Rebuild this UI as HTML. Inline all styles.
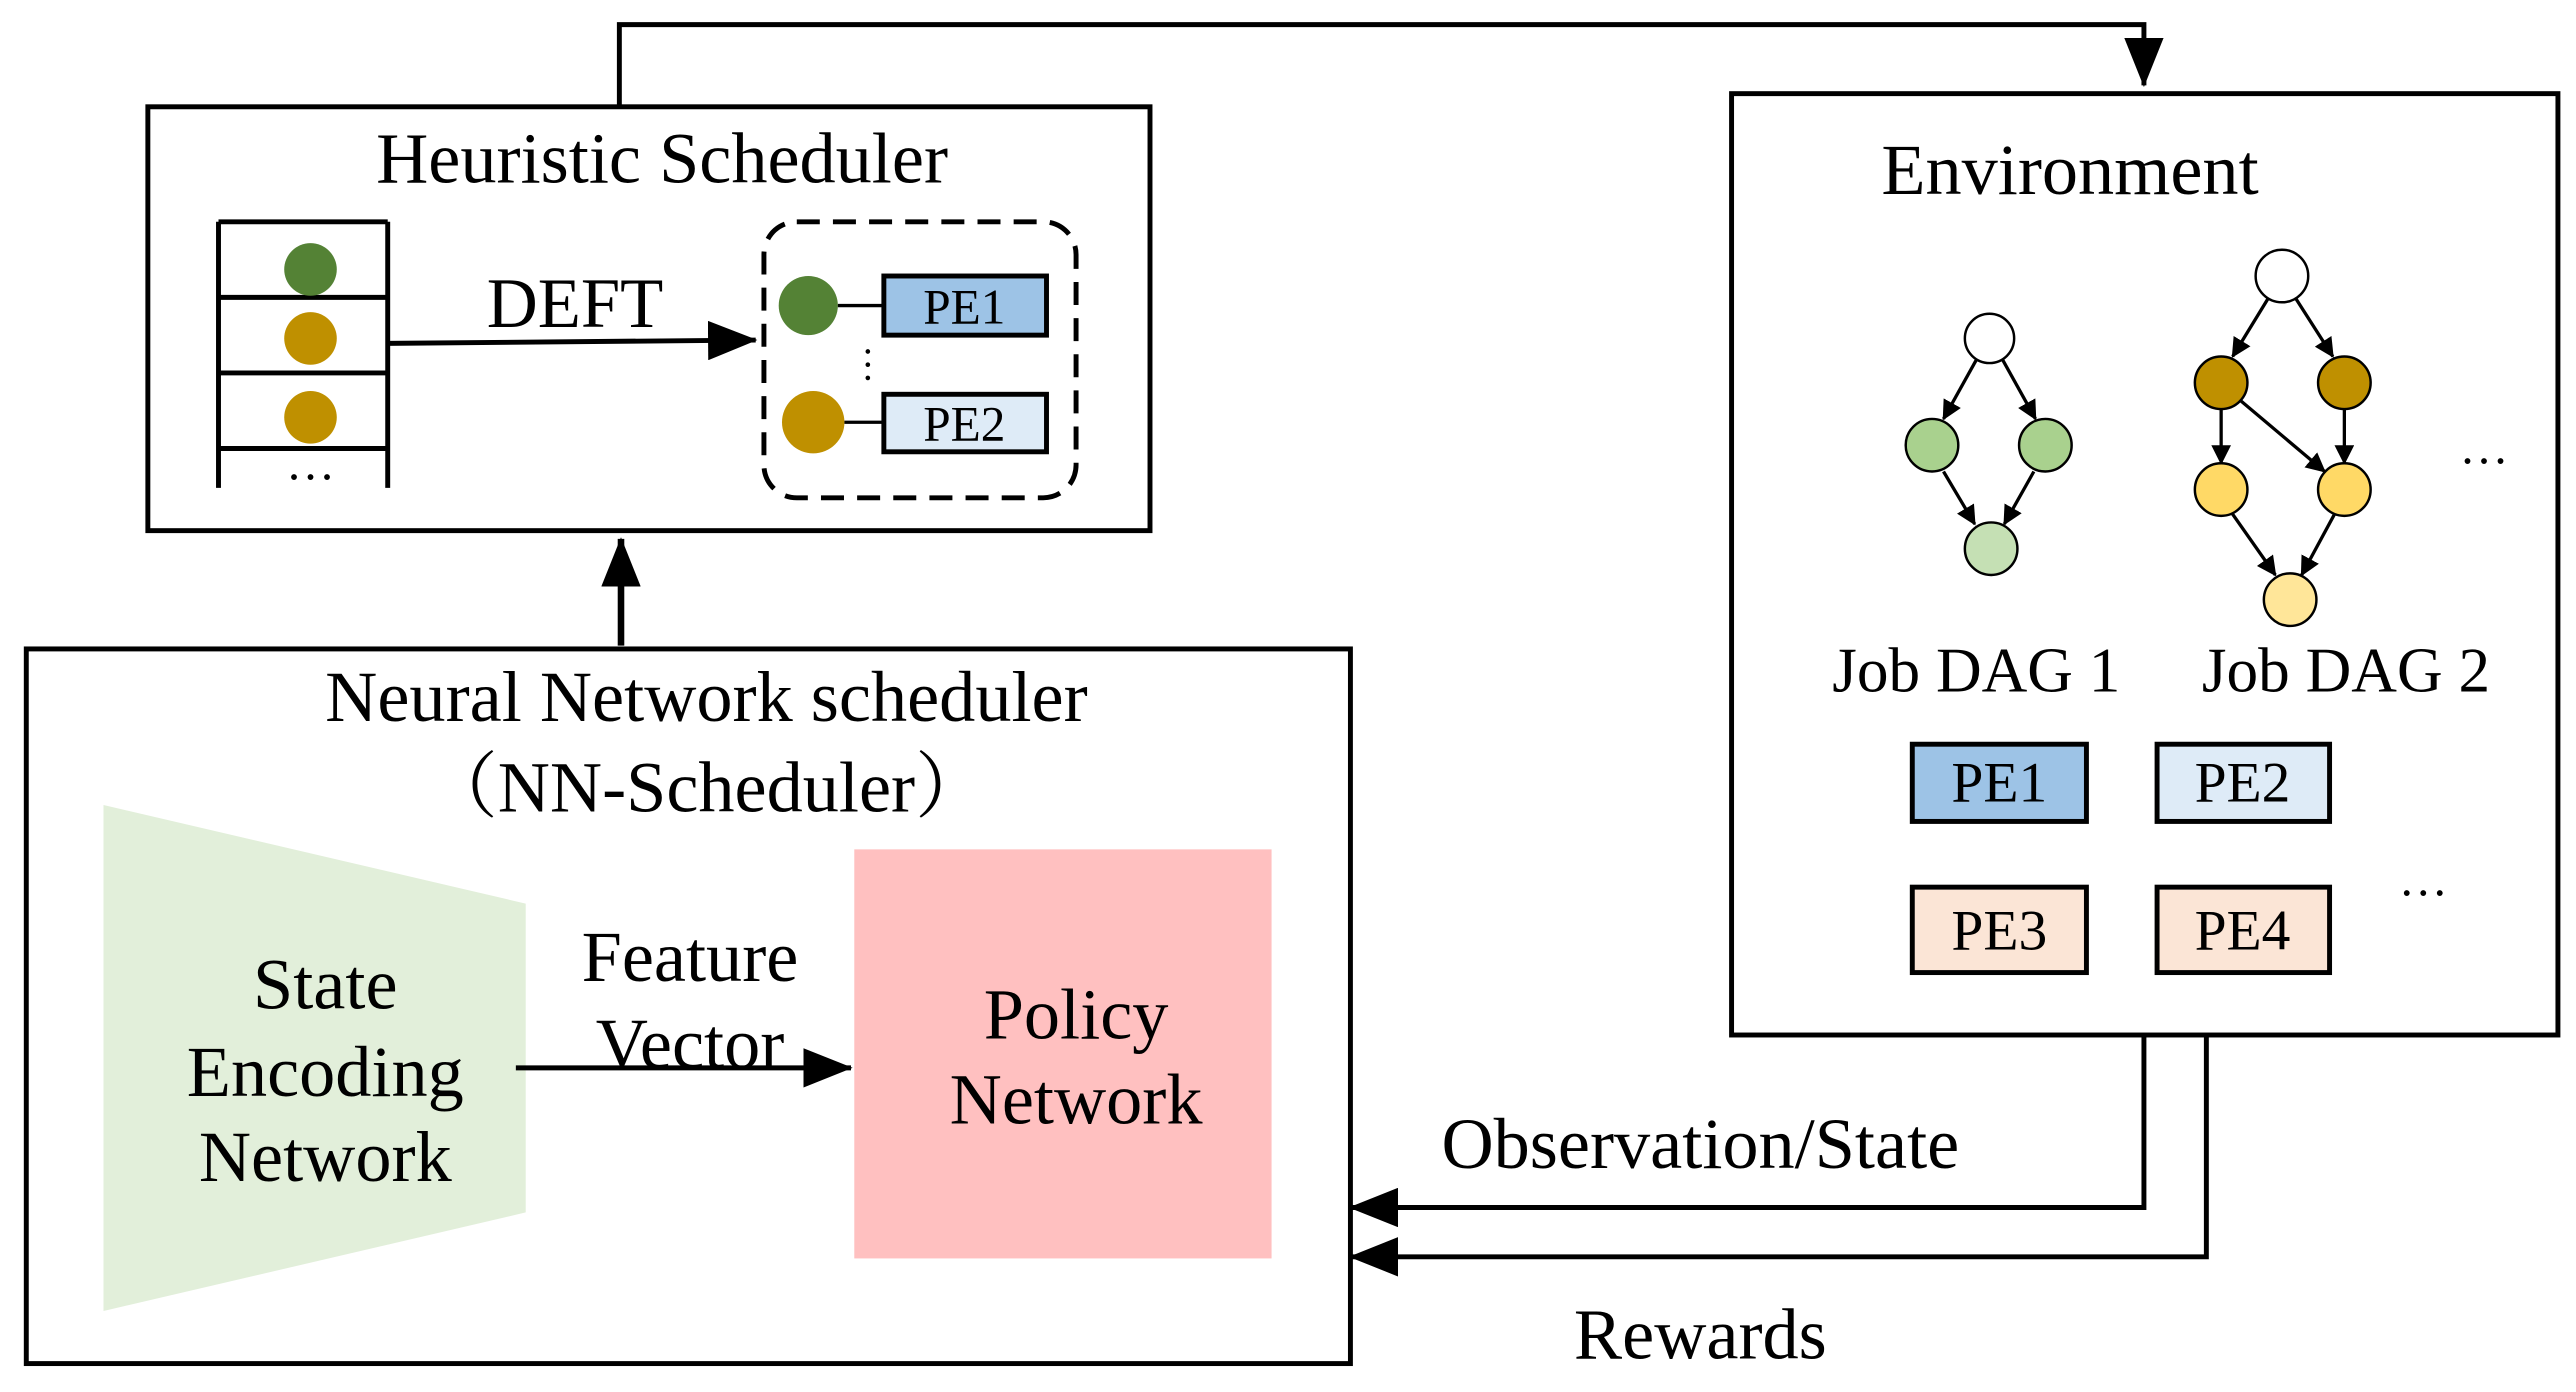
<!DOCTYPE html>
<html><head><meta charset="utf-8"><style>html,body{margin:0;padding:0;background:#fff}svg{display:block}</style></head>
<body>
<svg width="2576" height="1392" viewBox="0 0 1568 847.3" xmlns="http://www.w3.org/2000/svg" font-family="'Liberation Serif', 'Noto Serif CJK SC', serif">
<defs>
<marker id="a" markerWidth="12" markerHeight="12" refX="11" refY="6" orient="auto" markerUnits="userSpaceOnUse"><path d="M0,0 L12,6 L0,12 z" fill="#000"/></marker>
<marker id="b" markerWidth="30" markerHeight="24" refX="29" refY="12" orient="auto" markerUnits="userSpaceOnUse"><path d="M0,0 L30,12 L0,24 z" fill="#000"/></marker>
</defs>
<g fill="none" stroke="#000" stroke-width="3">
<rect x="90" y="65" width="610" height="258"/>
<rect x="1054" y="57" width="503" height="573"/>
<rect x="16" y="395" width="806" height="435"/>
<path d="M133,135 V297 M236,135 V297 M133,135 H236 M133,181 H236 M133,227 H236 M133,273 H236"/>
<rect x="465" y="135" width="190" height="168" rx="20" stroke-dasharray="14,8"/>
</g>
<circle cx="189" cy="164" r="16" fill="#548235"/>
<circle cx="189" cy="206" r="16" fill="#bf9000"/>
<circle cx="189" cy="254" r="16" fill="#bf9000"/>
<text x="189" y="292" font-size="30" text-anchor="middle">…</text>
<line x1="236" y1="209" x2="460" y2="207" stroke="#000" stroke-width="3" marker-end="url(#b)"/>
<text x="350" y="199" font-size="43" text-anchor="middle">DEFT</text>
<circle cx="492" cy="186" r="18" fill="#548235"/>
<line x1="510" y1="186" x2="538" y2="186" stroke="#000" stroke-width="2"/>
<rect x="538" y="168" width="99" height="36" fill="#9dc3e6" stroke="#000" stroke-width="3"/>
<text x="587" y="197" font-size="30" text-anchor="middle">PE1</text>
<circle cx="495" cy="257" r="19" fill="#bf9000"/>
<line x1="514" y1="257" x2="538" y2="257" stroke="#000" stroke-width="2"/>
<rect x="538" y="240" width="99" height="35" fill="#deebf7" stroke="#000" stroke-width="3"/>
<text x="587" y="268" font-size="30" text-anchor="middle">PE2</text>
<text x="537" y="232" font-size="24" text-anchor="middle" transform="rotate(90 537 222)">…</text>
<text x="403" y="111" font-size="44" text-anchor="middle">Heuristic Scheduler</text>
<path d="M377,65 V15 H1305 V52" fill="none" stroke="#000" stroke-width="3" marker-end="url(#b)"/>
<text x="1260" y="118" font-size="44" text-anchor="middle">Environment</text>
<g stroke="#000" stroke-width="2" marker-end="url(#a)">
<line x1="1203" y1="219" x2="1183" y2="255"/>
<line x1="1219" y1="219" x2="1239" y2="255"/>
<line x1="1183" y1="287" x2="1202" y2="319"/>
<line x1="1238" y1="287" x2="1220" y2="319"/>
<line x1="1381" y1="181" x2="1359" y2="217"/>
<line x1="1397" y1="181" x2="1420" y2="217"/>
<line x1="1352" y1="249" x2="1352" y2="282"/>
<line x1="1427" y1="249" x2="1427" y2="282"/>
<line x1="1364" y1="244" x2="1415" y2="287"/>
<line x1="1359" y1="313" x2="1385" y2="350"/>
<line x1="1421" y1="313" x2="1401" y2="350"/>
</g>
<g stroke="#000" stroke-width="1.5">
<circle cx="1211" cy="206" r="15" fill="#fff"/>
<circle cx="1176" cy="271" r="16" fill="#a9d18e"/>
<circle cx="1245" cy="271" r="16" fill="#a9d18e"/>
<circle cx="1212" cy="334" r="16" fill="#c5e0b4"/>
<circle cx="1389" cy="168" r="16" fill="#fff"/>
<circle cx="1352" cy="233" r="16" fill="#bf9000"/>
<circle cx="1427" cy="233" r="16" fill="#bf9000"/>
<circle cx="1352" cy="298" r="16" fill="#ffd966"/>
<circle cx="1427" cy="298" r="16" fill="#ffd966"/>
<circle cx="1394" cy="365" r="16" fill="#ffe699"/>
</g>
<text x="1512" y="282" font-size="30" text-anchor="middle">…</text>
<text x="1203" y="421" font-size="38.5" text-anchor="middle">Job DAG 1</text>
<text x="1428" y="421" font-size="38.5" text-anchor="middle">Job DAG 2</text>
<g stroke="#000" stroke-width="3">
<rect x="1164" y="453" width="106" height="47" fill="#9dc3e6"/>
<rect x="1313" y="453" width="105" height="47" fill="#deebf7"/>
<rect x="1164" y="540" width="106" height="52" fill="#fbe5d6"/>
<rect x="1313" y="540" width="105" height="52" fill="#fbe5d6"/>
</g>
<g font-size="35" text-anchor="middle">
<text x="1217" y="488">PE1</text><text x="1365" y="488">PE2</text>
<text x="1217" y="578">PE3</text><text x="1365" y="578">PE4</text>
</g>
<text x="1475" y="545" font-size="30" text-anchor="middle">…</text>
<text x="430" y="439" font-size="44" text-anchor="middle">Neural Network scheduler</text>
<text x="430" y="494" font-size="44" text-anchor="middle">（NN-Scheduler）</text>
<line x1="378" y1="393" x2="378" y2="328" stroke="#000" stroke-width="4" marker-end="url(#b)"/>
<polygon points="63,490 320,550 320,738 63,798" fill="#e2efda"/>
<g font-size="44" text-anchor="middle">
<text x="198" y="614">State</text><text x="198" y="667">Encoding</text><text x="198" y="719">Network</text>
</g>
<rect x="520" y="517" width="254" height="249" fill="#ffc0c0"/>
<g font-size="44" text-anchor="middle">
<text x="655" y="632">Policy</text><text x="655" y="684">Network</text>
<text x="420" y="597">Feature</text><text x="420" y="650">Vector</text>
</g>
<line x1="314" y1="650" x2="518" y2="650" stroke="#000" stroke-width="3" marker-end="url(#b)"/>
<path d="M1305,630 V735 H822" fill="none" stroke="#000" stroke-width="3" marker-end="url(#b)"/>
<path d="M1343,630 V765 H822" fill="none" stroke="#000" stroke-width="3" marker-end="url(#b)"/>
<text x="1035" y="711" font-size="44" text-anchor="middle">Observation/State</text>
<text x="1035" y="827" font-size="44" text-anchor="middle">Rewards</text>
</svg>
</body></html>
